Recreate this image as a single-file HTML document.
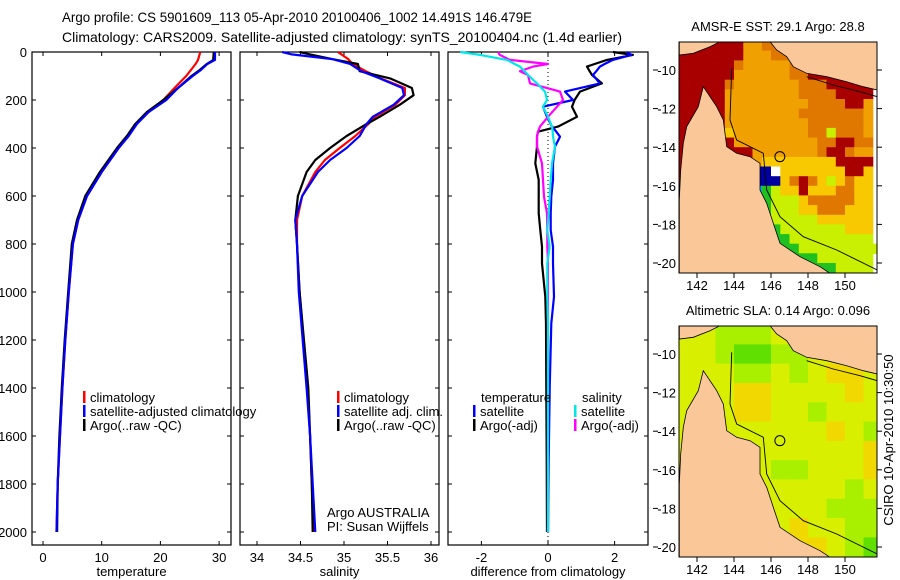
<!DOCTYPE html>
<html><head><meta charset="utf-8"><style>
html,body{margin:0;padding:0;background:#fff;}
svg{display:block;font-family:"Liberation Sans",sans-serif;}
</style></head><body>
<svg id="fig" width="900" height="580" viewBox="0 0 900 580">
<g id="titles">
<text x="62" y="22" font-size="14" textLength="470" lengthAdjust="spacingAndGlyphs">Argo profile: CS 5901609_113 05-Apr-2010 20100406_1002 14.491S 146.479E</text>
<text x="62" y="42" font-size="14" textLength="560" lengthAdjust="spacingAndGlyphs">Climatology: CARS2009. Satellite-adjusted climatology: synTS_20100404.nc (1.4d earlier)</text>
</g>
<g id="panels"></g>
<g id="maps"></g>
<text transform="translate(893,440) rotate(-90)" text-anchor="middle" font-size="13">CSIRO 10-Apr-2010 10:30:50</text>
</svg>
<script>
// ---------- profile data ----------
const tDepth = [0,33,50,75,100,150,200,250,300,350,400,500,600,700,800,1000,1200,1400,1600,1800,2000];
const tArgo  = [29.1,29.0,27.9,26.7,25.3,23.0,20.5,17.7,15.7,14.3,12.6,9.7,7.2,5.8,4.9,4.3,3.7,3.2,2.8,2.5,2.4];
const tClim  = [26.8,26.4,26.0,25.2,24.4,22.4,20.5,18.0,15.9,14.5,12.9,10.0,7.5,6.0,5.1,4.4,3.8,3.3,2.9,2.5,2.3];
const tSat   = [29.3,29.3,28.0,26.9,25.5,23.0,21.0,18.0,16.0,14.6,12.9,10.0,7.5,6.0,5.1,4.4,3.8,3.3,2.9,2.5,2.3];
const sDepth = [0,10,30,50,80,110,150,180,220,270,300,350,400,450,500,600,700,800,1000,1400,1600,1800,2000];
const sArgo  = [34.49,34.61,34.87,35.16,35.18,35.53,35.78,35.80,35.64,35.41,35.26,35.03,34.84,34.67,34.57,34.47,34.44,34.46,34.49,34.59,34.61,34.63,34.64];
const sClim  = [34.93,34.97,35.05,35.10,35.25,35.42,35.70,35.70,35.59,35.36,35.28,35.13,34.95,34.78,34.67,34.52,34.46,34.46,34.49,34.58,34.61,34.63,34.65];
const sSat   = [34.29,34.40,34.87,35.07,35.20,35.41,35.67,35.69,35.57,35.33,35.26,35.18,35.03,34.84,34.70,34.52,34.44,34.46,34.48,34.57,34.61,34.64,34.67];
const dDepth = [0,12,33,50,61,80,96,131,165,200,228,270,311,332,353,394,464,533,603,672,742,811,881,1019,1131,1400,1700,2000];
const dTArgo = [1.95,2.55,1.77,1.4,1.17,1.25,1.32,1.62,0.96,0.8,0.72,0.87,0.3,-0.3,-0.33,-0.33,-0.38,-0.28,-0.28,-0.28,-0.23,-0.18,-0.18,-0.08,-0.06,-0.05,-0.04,-0.03];
const dTSat  = [2.37,2.5,1.95,1.7,1.56,1.45,1.35,1.56,0.51,0.75,-0.15,-0.03,0.12,0.25,0.36,0.21,0.15,0.15,0.1,0.08,0.08,0.15,0.15,0.18,0.1,0.05,0.02,0.0];
const dSArgo = [-1.5,-1.45,-1.14,0.0,-0.45,-0.84,-0.6,-0.54,0.36,0.45,0.27,0.0,-0.24,-0.3,-0.33,-0.33,-0.18,-0.15,-0.12,-0.03,-0.02,-0.02,0.0,0.0,0.0,0.0,0.0,0.0];
const dSSat  = [-2.64,-2.04,-1.23,-1.0,-0.84,-0.7,-0.6,-0.33,-0.09,-0.03,-0.15,0.0,0.12,0.14,0.15,0.21,0.12,0.08,0.05,0.02,-0.02,0.05,-0.02,-0.02,0.0,0.0,0.0,0.0];
const depthTicks = [0,200,400,600,800,1000,1200,1400,1600,1800,2000];
const tTicks = [0,10,20,30];
const sTicks = [34,34.5,35,35.5,36];
const sTickLabels = ["34","34.5","35","35.5","36"];
const dTicks = [-2,0,2];
// ---------- map data ----------
const sstColors = {r:"#a80000",o:"#e07800",y:"#f0a000",Y:"#f8c800",l:"#c8f000",g:"#20c020",b:"#0000a0",c:"#10a8f0",w:"#ffffff"};
const sstRows = [
"rrrrrrryyoooorrrrooor",
"rrrrrrryyyooorrroooor",
"rrrrrroyyyyyoorrrrorl",
"rrrrrryyyyyyoorrrrrrl",
"rrrrroyyyyyyyooorrrrr",
"rrrrryyyyyyyyoooorrrr",
"rrrrryyyyyyyyyoooorry",
"rrrrryyyyyyyyoooooooy",
"rrrrryyyyyyyyyooooooy",
"rrrrrYyyyyyyyyooloooy",
"rrrrrryyyyyyyyyoorroo",
"rrrrrrrryyyyyyyorroyy",
"rrrrrrrryYYYYYYYYrrrr",
"rrrrrrrlbbwYYYYYYYrrY",
"rrrrrrrbbbbYoroYlYoYY",
"rrrrrrrbcglYYrYYYooYY",
"rrrrrrrbcglllYoooooYY",
"rrrrrrrrgglllYYoooYYY",
"rrrrrrrrgglllllYYYYYY",
"rrrrrrrrggglllllllYYY",
"rrrrrrrrrggglllllllll",
"rrrrrrrrrrggglllllllll",
"rrrrrrrrrrgggggllllll",
"rrrrrrrrrrrggggggllll"];
const slaColors = {a:"#f0d800",b:"#d8f000",c:"#a8f000",d:"#60e000"};
const slaRows = [
"bbcccbbbbbc",
"bbcddccbbbc",
"bbbccbcbaab",
"bbbaabbbbab",
"bbbaabbcbbb",
"bbbbbbbbabc",
"bbbbbbbbbba",
"bbbbbccbbba",
"bbbbbbbbbcb",
"bbbbbbbbccc",
"bbbbbbabbcc",
"bbbbbbaabcd"];
const latTicks = [-10,-12,-14,-16,-18,-20];
const lonTicks = [142,144,146,148,150];
const argoLon = 146.479, argoLat = -14.491;

const NS="http://www.w3.org/2000/svg";
function mk(tag, attrs, parent){const e=document.createElementNS(NS,tag);for(const k in attrs)e.setAttribute(k,attrs[k]);parent.appendChild(e);return e;}
const panelsG=document.getElementById('panels');
const mapsG=document.getElementById('maps');

const PT=52, PB=545, D0=0, Dpx=0.24;
const yD = d => PT + d*Dpx;

function panel(name, left, right, x0px, x0val, pxPerUnit, xticks, xlabels, xtitle, showY){
  const g=mk('g',{},panelsG);
  
  
  const xs = v => x0px + (v-x0val)*pxPerUnit;
  const fr=mk('rect',{x:left,y:PT,width:right-left,height:PB-PT,fill:'none',stroke:'#000','stroke-width':1.2},g);
  
  
  depthTicks.forEach(d=>{
    mk('line',{x1:left,x2:left+4,y1:yD(d),y2:yD(d),stroke:'#000'},g);
    mk('line',{x1:right,x2:right-4,y1:yD(d),y2:yD(d),stroke:'#000'},g);
    if(showY){const t=mk('text',{x:27,y:yD(d)+5,'text-anchor':'end','font-size':13},g);t.textContent=d;
      
      }
  });
  xticks.forEach((v,i)=>{
    mk('line',{x1:xs(v),x2:xs(v),y1:PT,y2:PT+4,stroke:'#000'},g);
    mk('line',{x1:xs(v),x2:xs(v),y1:PB,y2:PB-4,stroke:'#000'},g);
    const t=mk('text',{x:xs(v),y:562,'text-anchor':'middle','font-size':13},g);t.textContent=xlabels[i];
    
    
  });
  const tt=mk('text',{x:(left+right)/2,y:576,'text-anchor':'middle','font-size':13},g);tt.textContent=xtitle;
  
  
  return {g,xs};
}
function line(p, depths, vals, color, name){
  const pts=depths.map((d,i)=>p.xs(vals[i]).toFixed(1)+','+yD(d).toFixed(1)).join(' ');
  const l=mk('polyline',{points:pts,fill:'none',stroke:color,'stroke-width':2.2,'stroke-linejoin':'round'},p.g);
  
  
}
function legend(g, x, y, color, label){
  mk('rect',{x:x,y:y-11,width:2.5,height:12,fill:color},g);
  const t=mk('text',{x:x+7,y:y,'font-size':13},g);t.textContent=label;
  
  
}

// Panel 1 temperature
const p1=panel('temperature-panel',32,231,43,0,5.87,tTicks,tTicks.map(String),'temperature',true);
line(p1,tDepth,tClim,'#ff0000','temperature-climatology-line');
line(p1,tDepth,tArgo,'#000000','temperature-argo-line');
line(p1,tDepth,tSat,'#0000ff','temperature-satellite-line');
legend(p1.g,83,402,'#ff0000','climatology');
legend(p1.g,83,416,'#0000ff','satellite-adjusted climatology');
legend(p1.g,83,430,'#000000','Argo(..raw -QC)');

// Panel 2 salinity
const p2=panel('salinity-panel',240,439,257,34,87,sTicks,sTickLabels,'salinity',false);
line(p2,sDepth,sClim,'#ff0000','salinity-climatology-line');
line(p2,sDepth,sArgo,'#000000','salinity-argo-line');
line(p2,sDepth,sSat,'#0000ff','salinity-satellite-line');
legend(p2.g,337,402,'#ff0000','climatology');
legend(p2.g,337,416,'#0000ff','satellite adj. clim.');
legend(p2.g,337,430,'#000000','Argo(..raw -QC)');
[["Argo AUSTRALIA",517],["PI: Susan Wijffels",531]].forEach(a=>{const t=mk('text',{x:327,y:a[1],'font-size':13},p2.g);t.textContent=a[0];
  
  });

// Panel 3 differences
const p3=panel('difference-panel',448,648,548,0,33.3,dTicks,dTicks.map(String),'difference from climatology',false);
mk('line',{x1:p3.xs(0),x2:p3.xs(0),y1:PT,y2:PB,stroke:'#000','stroke-dasharray':'1,3'},p3.g);
line(p3,dDepth,dTArgo,'#000000','temp-diff-argo-line');
line(p3,dDepth,dTSat,'#0000ff','temp-diff-satellite-line');
line(p3,dDepth,dSArgo,'#ff00ff','sal-diff-argo-line');
line(p3,dDepth,dSSat,'#00e8e8','sal-diff-satellite-line');
[["temperature",481],["salinity",582]].forEach(a=>{const t=mk('text',{x:a[1],y:402,'font-size':13},p3.g);t.textContent=a[0];
  
  });
legend(p3.g,473,416,'#0000ff','satellite');
legend(p3.g,473,430,'#000000','Argo(-adj)');
legend(p3.g,574,416,'#00e8e8','satellite');
legend(p3.g,574,430,'#ff00ff','Argo(-adj)');

// ---------- maps ----------
const ML=679, MR=877;
const lonX = lon => 697 + (lon-142)*18.5;
// land polygons in top-map zoom coordinates (local)
const capeYork=[[130,230],[115,290],[80,350],[70,400],[62,480],[58,570],[58,790],[510,790],[480,770],[420,740],[360,700],[340,640],[320,580],[300,540],[300,460],[270,440],[230,430],[200,410],[190,330],[170,290]];
const png=[[330,95],[652,95],[652,240],[610,230],[560,215],[500,200],[440,190],[400,170],[380,140],[350,120]];
const nw=[[58,95],[180,95],[150,110],[100,130],[58,135]];
const isobath=[[215,175],[210,330],[230,390],[310,430],[320,540],[360,620],[430,680],[530,720],[652,780]];
const isobath2=[[440,200],[520,225],[600,245],[652,260]];
function drawMap(name, top, bottom, rows, colors, latTop, cellDeg, lonStart, title, dy){
  const g=mk('g',{},mapsG);
  
  
  const latY = lat => (top+28) + (-10-lat)*19.3 + (top>100? 0:0);
  const cp=mk('clipPath',{id:name+'-clip'},g);
  mk('rect',{x:ML,y:top,width:MR-ML,height:bottom-top},cp);
  const cg=mk('g',{'clip-path':'url(#'+name+'-clip)'},g);
  rows.forEach((row,r)=>{
    for(let c=0;c<row.length;c++){
      const lon=lonStart+c*cellDeg, lat=latTop-r*cellDeg;
      const x=lonX(lon), y=latY(lat);
      const cell=mk('rect',{x:x.toFixed(1),y:y.toFixed(1),width:(cellDeg*18.5+0.6).toFixed(1),height:(cellDeg*19.3+0.6).toFixed(1),fill:colors[row[c]]||'#fff'},cg);
      
      
    }
  });
  const P = arr => arr.map(p=>(660+p[0]/3).toFixed(1)+','+(10+p[1]/3+dy).toFixed(1)).join(' ');
  [capeYork,png,nw].forEach(poly=>{
    const l=mk('polygon',{points:P(poly),fill:'#fac898',stroke:'#000','stroke-width':0.8},cg);
    
    
  });
  [isobath,isobath2].forEach(pl=>{
    const l=mk('polyline',{points:P(pl),fill:'none',stroke:'#000','stroke-width':0.9},cg);
    
    
  });
  const m=mk('circle',{cx:lonX(argoLon),cy:latY(argoLat),r:5,fill:'none',stroke:'#000','stroke-width':1},cg);
  
  
  mk('rect',{x:ML,y:top,width:MR-ML,height:bottom-top,fill:'none',stroke:'#000','stroke-width':1},g);
  latTicks.forEach(lat=>{
    const y=latY(lat);
    mk('line',{x1:MR,x2:MR+5,y1:y,y2:y,stroke:'#000'},g);
    mk('line',{x1:653,x2:658,y1:y,y2:y,stroke:'#000'},g);
    const t=mk('text',{x:676,y:y+5,'text-anchor':'end','font-size':13},g);t.textContent=lat;
    
    
  });
  lonTicks.forEach(lon=>{
    const x=lonX(lon);
    mk('line',{x1:x,x2:x,y1:bottom,y2:bottom+5,stroke:'#000'},g);
    const t=mk('text',{x:x,y:bottom+17,'text-anchor':'middle','font-size':13},g);t.textContent=lon;
    
    
  });
  const tt=mk('text',{x:778,y:top-11,'text-anchor':'middle','font-size':13},g);tt.textContent=title;
  
  
}
drawMap('sst-map',42,273,sstRows,sstColors,-8.5,0.5,141.0,'AMSR-E SST: 29.1 Argo: 28.8',0);
drawMap('sla-map',326,557,slaRows,slaColors,-8.5,1.0,141.0,'Altimetric SLA: 0.14 Argo: 0.096',284);
</script>
</body></html>
